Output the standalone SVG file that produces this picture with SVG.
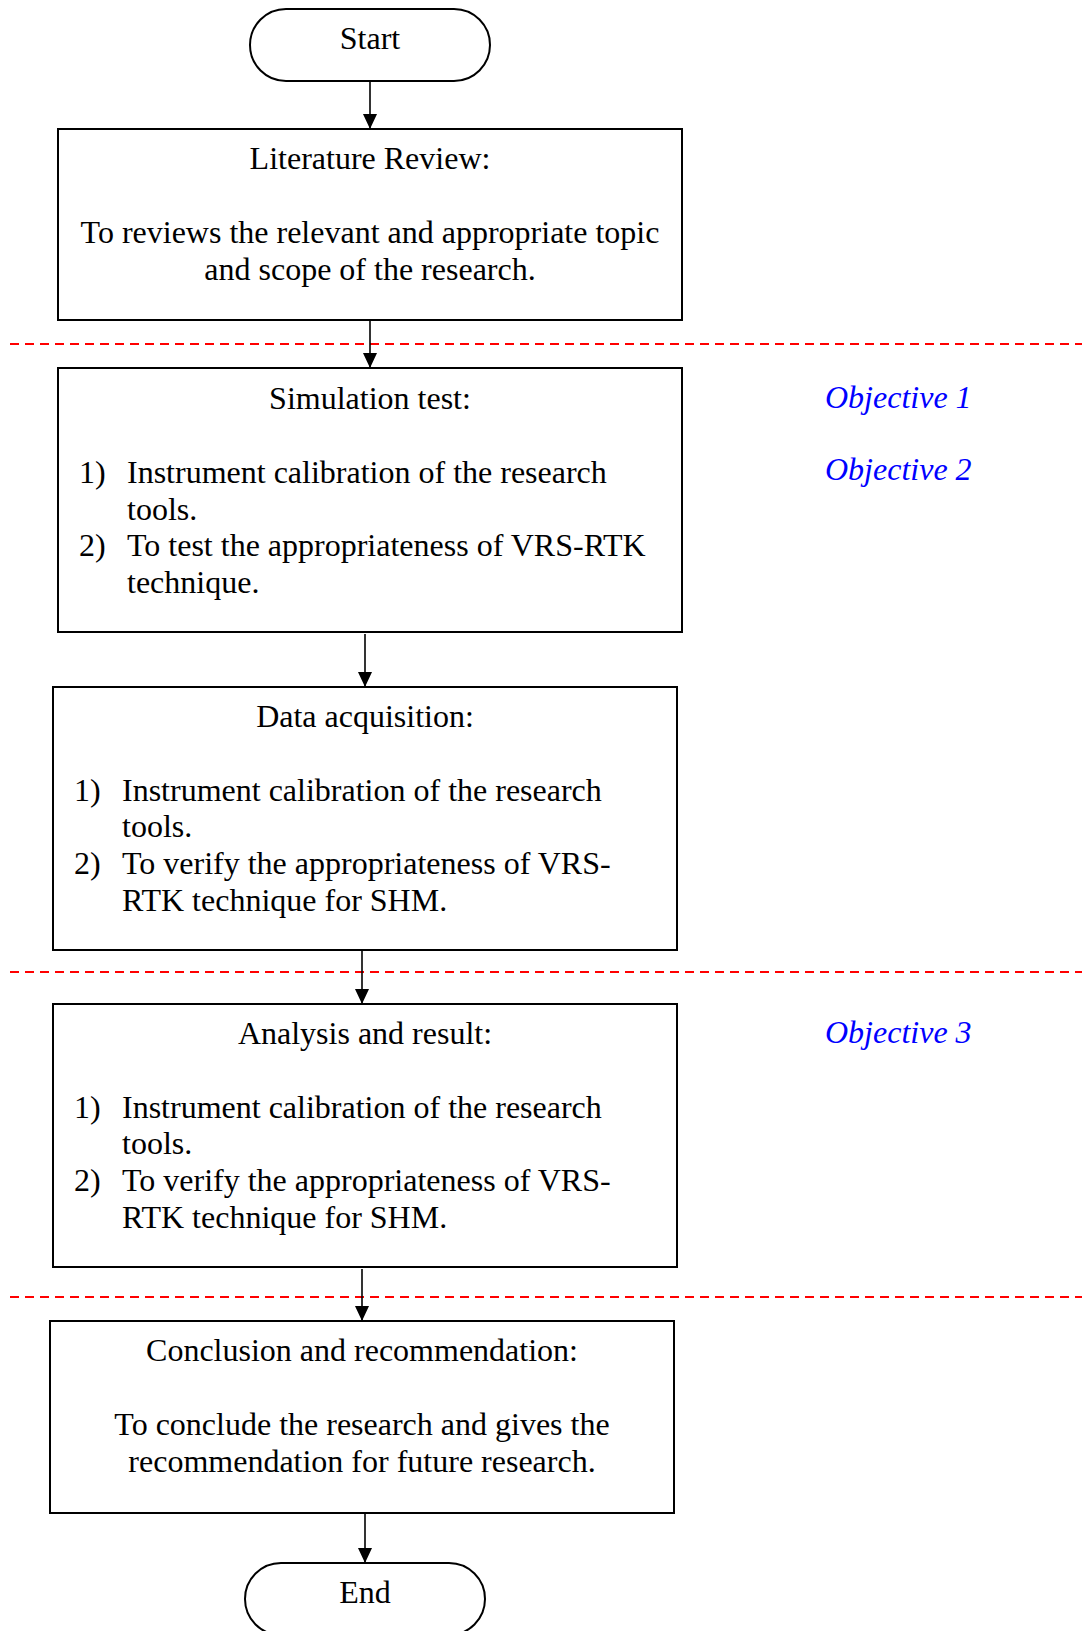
<svg xmlns="http://www.w3.org/2000/svg" width="1087" height="1631" viewBox="0 0 1087 1631">
  <style>
    .box { fill: #ffffff; stroke: #000000; stroke-width: 2; }
    .t { font-family: "Liberation Serif", "Times New Roman", serif; font-size: 32px; fill: #000000; }
    .c { text-anchor: middle; }
    .obj { font-family: "Liberation Serif", "Times New Roman", serif; font-size: 32px; font-style: italic; fill: #0000ff; }
    .conn { stroke: #000000; stroke-width: 1.6; fill: none; marker-end: url(#arrow); }
    .sep { stroke: #ff0000; stroke-width: 2; stroke-dasharray: 9 6; fill: none; }
  </style>
  <defs>
    <!-- solid triangular arrowhead, tip at the end of the line -->
    <marker id="arrow" viewBox="0 0 15 14" refX="15" refY="7" markerWidth="15" markerHeight="14" markerUnits="userSpaceOnUse" orient="auto">
      <path d="M0,0 L15,7 L0,14 Z" fill="#000000"/>
    </marker>
  </defs>
  <rect width="1087" height="1631" fill="#ffffff"/>

  <!-- phase separators -->
  <g id="separators">
    <line class="sep" x1="10" y1="344" x2="1082" y2="344"/>
    <line class="sep" x1="10" y1="972" x2="1082" y2="972"/>
    <line class="sep" x1="10" y1="1297" x2="1082" y2="1297"/>
  </g>

  <!-- connectors -->
  <g id="connectors">
    <path class="conn" d="M370,81 V129"/>
    <path class="conn" d="M370,320 V368"/>
    <path class="conn" d="M365,634 V687"/>
    <path class="conn" d="M362,950 V1004"/>
    <path class="conn" d="M362,1269 V1321"/>
    <path class="conn" d="M365,1514 V1563"/>
  </g>

  <g id="start">
    <rect class="box" x="250" y="9" width="240" height="72" rx="36" ry="36"/>
    <text class="t c" x="370" y="49">Start</text>
  </g>

  <g id="literature-review">
    <rect class="box" x="58" y="129" width="624" height="191"/>
    <text class="t c" x="370" y="169">Literature Review:</text>
    <text class="t c" x="370" y="243">To reviews the relevant and appropriate topic</text>
    <text class="t c" x="370" y="280">and scope of the research.</text>
  </g>

  <g id="simulation-test">
    <rect class="box" x="58" y="368" width="624" height="264"/>
    <text class="t c" x="370" y="409">Simulation test:</text>
    <text class="t" x="79" y="483">1)</text>
    <text class="t" x="127" y="483">Instrument calibration of the research</text>
    <text class="t" x="127" y="520">tools.</text>
    <text class="t" x="79" y="556">2)</text>
    <text class="t" x="127" y="556">To test the appropriateness of VRS-RTK</text>
    <text class="t" x="127" y="593">technique.</text>
  </g>

  <g id="data-acquisition">
    <rect class="box" x="53" y="687" width="624" height="263"/>
    <text class="t c" x="365" y="727">Data acquisition:</text>
    <text class="t" x="74" y="801">1)</text>
    <text class="t" x="122" y="801">Instrument calibration of the research</text>
    <text class="t" x="122" y="837">tools.</text>
    <text class="t" x="74" y="874">2)</text>
    <text class="t" x="122" y="874">To verify the appropriateness of VRS-</text>
    <text class="t" x="122" y="911">RTK technique for SHM.</text>
  </g>

  <g id="analysis-result">
    <rect class="box" x="53" y="1004" width="624" height="263"/>
    <text class="t c" x="365" y="1044">Analysis and result:</text>
    <text class="t" x="74" y="1118">1)</text>
    <text class="t" x="122" y="1118">Instrument calibration of the research</text>
    <text class="t" x="122" y="1154">tools.</text>
    <text class="t" x="74" y="1191">2)</text>
    <text class="t" x="122" y="1191">To verify the appropriateness of VRS-</text>
    <text class="t" x="122" y="1228">RTK technique for SHM.</text>
  </g>

  <g id="conclusion">
    <rect class="box" x="50" y="1321" width="624" height="192"/>
    <text class="t c" x="362" y="1361">Conclusion and recommendation:</text>
    <text class="t c" x="362" y="1435">To conclude the research and gives the</text>
    <text class="t c" x="362" y="1472">recommendation for future research.</text>
  </g>

  <g id="end">
    <rect class="box" x="245" y="1563" width="240" height="72" rx="36" ry="36"/>
    <text class="t c" x="365" y="1603">End</text>
  </g>

  <g id="objectives">
    <text class="obj" x="825" y="408">Objective 1</text>
    <text class="obj" x="825" y="480">Objective 2</text>
    <text class="obj" x="825" y="1043">Objective 3</text>
  </g>
</svg>
